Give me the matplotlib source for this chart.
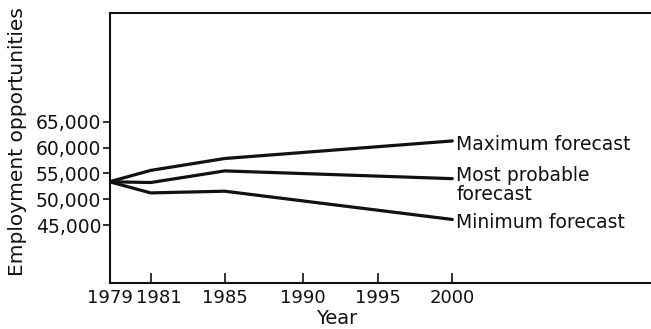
import numpy as np
import matplotlib
matplotlib.use('Agg')
import matplotlib.pyplot as plt
import matplotlib.transforms as mtransforms

# data
years = [1979, 1981, 1985, 2000]
maximum = [53400, 55600, 57900, 61300]
most_probable = [53400, 53250, 55500, 54000]
minimum = [53400, 51240, 51570, 46100]

yticks = [45000, 50000, 55000, 60000, 65000]
xticks = [1979, 1981, 1985, 1990, 1995, 2000]

# the year axis in the original is not uniform
scale_years = [1979, 1981, 1985, 1990, 1995, 2000, 2015]
scale_pos = [0.0, 41.2, 115.2, 193.2, 268.2, 342.8, 567.0]


def forward(x):
    return np.interp(x, scale_years, scale_pos)


def inverse(p):
    return np.interp(p, scale_pos, scale_years)


plt.rcParams['font.family'] = 'DejaVu Sans'
plt.rcParams['font.size'] = 13

fig = plt.figure(figsize=(6.51, 3.29), dpi=100)
ax = fig.add_axes([109.5 / 651, 1 - 283.3 / 329, 1 - 109.5 / 651, (283.3 - 13) / 329])

lc = '#111111'
for ys in (maximum, most_probable, minimum):
    ax.plot(years, ys, color=lc, lw=2.3, solid_joinstyle='round', solid_capstyle='round')

ax.set_xscale('function', functions=(forward, inverse))
ax.set_xlim(1979, float(inverse(651 - 109.5)))
ax.set_ylim(33740, 86070)

ax.set_xticks(xticks)
ax.set_xticklabels([str(x) for x in xticks])
ax.set_yticks(yticks)
ax.set_yticklabels(['{:,}'.format(v) for v in yticks], fontsize=13.5)
ax.minorticks_off()

ax.tick_params(axis='x', direction='in', length=7, width=1.2, pad=4, color=lc, labelcolor=lc)
ax.tick_params(axis='y', direction='out', length=5, width=1.2, pad=1, color=lc, labelcolor=lc)

# 1979 and 1981 sit close together, nudge 1981 to the right
lab1981 = ax.get_xticklabels()[1]
lab1981.set_transform(lab1981.get_transform() +
                      mtransforms.ScaledTranslation(8 / 100, 0, fig.dpi_scale_trans))

for side in ('left', 'bottom', 'top'):
    ax.spines[side].set_linewidth(1.5)
    ax.spines[side].set_color(lc)
ax.spines['right'].set_visible(False)

# line labels at the 2000 end
ax.annotate('Maximum forecast', xy=(2000, maximum[-1]), xytext=(3, -6.6),
            textcoords='offset points', va='baseline', ha='left', color=lc,
            fontsize=13.5)
ax.annotate('Most probable\nforecast', xy=(2000, most_probable[-1]), xytext=(3, -15.6),
            textcoords='offset points', va='baseline', ha='left', color=lc,
            fontsize=13.5, linespacing=1.0)
ax.annotate('Minimum forecast', xy=(2000, minimum[-1]), xytext=(3, -6.4),
            textcoords='offset points', va='baseline', ha='left', color=lc,
            fontsize=13.5)

fig.text(18 / 651, 1 - 142 / 329, 'Employment opportunities', rotation=90,
         ha='center', va='center', color=lc, fontsize=14.5)
fig.text(337 / 651, 1 - 318 / 329, 'Year', ha='center', va='center', color=lc,
         fontsize=14)

fig.savefig('out.png', dpi=100)
